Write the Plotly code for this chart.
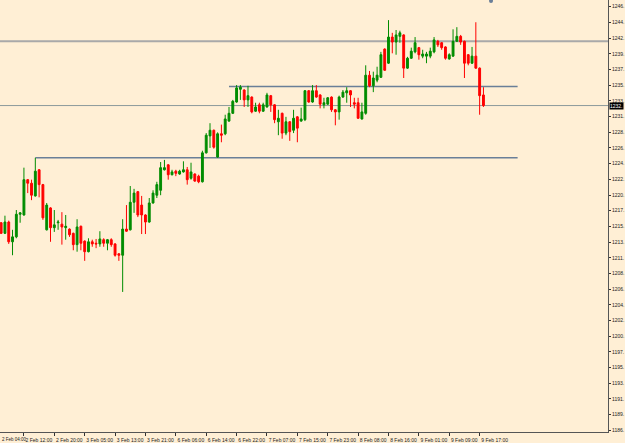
import plotly.graph_objects as go

# ---- data (hourly XAU candles) ----
bar_index = list(range(128))
open_ = [1216.0, 1214.5, 1216.1, 1213.3, 1214.0, 1217.2, 1217.1, 1222.1, 1221.6, 1219.8,
         1223.5, 1221.4, 1215.0, 1218.1, 1215.3, 1216.0, 1215.8, 1215.3, 1215.1, 1214.5,
         1212.9, 1215.5, 1213.4, 1211.9, 1213.3, 1213.1, 1213.0, 1213.6, 1213.1, 1213.6,
         1213.0, 1211.6, 1211.4, 1215.1, 1215.0, 1218.9, 1220.4, 1218.5, 1217.1, 1216.1,
         1218.8, 1219.9, 1220.6, 1223.5, 1224.2, 1222.8, 1223.3, 1222.9, 1223.2, 1223.5,
         1222.3, 1222.9, 1222.6, 1221.8, 1225.9, 1228.3, 1229.1, 1225.3, 1228.6, 1228.6,
         1230.4, 1231.5, 1233.1, 1234.9, 1234.8, 1233.4, 1233.8, 1231.8, 1232.7, 1231.8,
         1232.4, 1234.0, 1232.7, 1230.3, 1231.5, 1228.7, 1230.3, 1229.1, 1231.0, 1230.4,
         1230.6, 1234.7, 1233.1, 1234.7, 1234.1, 1232.7, 1232.8, 1233.8, 1232.0, 1231.7,
         1233.8, 1234.4, 1234.7, 1233.0, 1233.0, 1230.7, 1231.5, 1236.9, 1235.4, 1236.2,
         1236.6, 1240.6, 1238.6, 1242.3, 1241.6, 1242.4, 1242.6, 1237.9, 1239.3, 1240.2,
         1240.8, 1239.6, 1239.6, 1239.6, 1240.2, 1241.7, 1241.5, 1240.9, 1239.2, 1239.6,
         1241.7, 1242.4, 1241.7, 1239.8, 1238.6, 1239.6, 1237.9, 1234.1]
high = [1216.1, 1217.0, 1216.3, 1215.0, 1217.8, 1217.5, 1223.8, 1222.2, 1222.1, 1225.2,
        1223.6, 1221.5, 1218.8, 1218.2, 1217.8, 1216.4, 1217.5, 1217.1, 1215.2, 1214.6,
        1216.5, 1215.6, 1213.5, 1213.8, 1213.6, 1213.7, 1214.8, 1213.8, 1213.7, 1213.8,
        1213.1, 1211.7, 1216.5, 1218.5, 1221.2, 1220.8, 1220.5, 1219.8, 1217.2, 1219.5,
        1220.6, 1221.8, 1224.6, 1224.9, 1224.3, 1223.5, 1223.5, 1223.5, 1224.7, 1223.9,
        1224.5, 1223.0, 1222.8, 1226.2, 1228.7, 1230.1, 1229.2, 1228.8, 1229.9, 1231.3,
        1232.4, 1233.4, 1235.5, 1235.5, 1234.9, 1235.4, 1233.9, 1233.0, 1233.0, 1233.0,
        1234.4, 1234.1, 1232.8, 1232.0, 1231.6, 1231.0, 1230.4, 1232.0, 1231.1, 1232.3,
        1234.8, 1234.8, 1235.5, 1235.5, 1234.2, 1233.7, 1233.8, 1233.9, 1232.1, 1234.0,
        1234.8, 1235.2, 1234.8, 1233.7, 1233.7, 1233.0, 1238.3, 1237.5, 1237.4, 1238.1,
        1240.2, 1240.7, 1244.7, 1242.9, 1243.3, 1243.2, 1242.7, 1239.5, 1240.8, 1242.3,
        1240.9, 1240.5, 1240.2, 1240.8, 1242.3, 1241.9, 1241.6, 1241.0, 1240.0, 1243.4,
        1243.7, 1242.6, 1241.8, 1239.9, 1240.9, 1244.4, 1238.0, 1235.2]
low = [1214.4, 1214.4, 1213.0, 1211.4, 1213.8, 1216.0, 1217.0, 1220.2, 1219.2, 1219.7,
       1219.6, 1216.4, 1214.9, 1213.3, 1214.7, 1215.0, 1212.9, 1213.6, 1214.0, 1212.1,
       1211.9, 1212.1, 1210.6, 1211.8, 1212.6, 1212.4, 1212.6, 1212.6, 1212.1, 1212.6,
       1211.2, 1210.6, 1206.2, 1214.7, 1214.9, 1217.4, 1216.8, 1214.4, 1214.4, 1216.0,
       1218.7, 1219.5, 1219.9, 1223.4, 1222.1, 1222.7, 1222.6, 1222.8, 1223.1, 1221.4,
       1222.1, 1221.8, 1221.6, 1221.7, 1225.8, 1226.6, 1226.5, 1225.2, 1227.4, 1228.4,
       1230.3, 1231.4, 1233.0, 1233.4, 1232.4, 1232.4, 1231.5, 1231.7, 1231.5, 1231.7,
       1232.3, 1231.7, 1230.1, 1228.4, 1227.9, 1228.4, 1227.6, 1228.7, 1227.4, 1230.3,
       1230.4, 1233.0, 1233.0, 1233.7, 1232.2, 1232.2, 1232.7, 1231.7, 1229.8, 1230.6,
       1233.7, 1233.0, 1232.4, 1232.2, 1230.7, 1230.6, 1231.3, 1235.2, 1234.5, 1235.9,
       1236.5, 1237.5, 1238.5, 1240.0, 1239.8, 1241.5, 1236.5, 1237.8, 1239.2, 1240.0,
       1239.1, 1239.3, 1238.6, 1239.3, 1240.0, 1240.9, 1240.5, 1239.1, 1239.1, 1239.5,
       1241.6, 1241.2, 1236.5, 1238.3, 1238.5, 1237.8, 1231.3, 1232.4]
close = [1214.5, 1216.1, 1213.3, 1214.0, 1217.2, 1217.4, 1222.1, 1221.6, 1219.9, 1223.3,
         1221.4, 1216.7, 1218.5, 1215.3, 1215.7, 1216.1, 1215.4, 1215.5, 1214.3, 1212.9,
         1215.4, 1213.1, 1211.9, 1213.3, 1213.0, 1213.0, 1213.7, 1213.1, 1213.6, 1212.9,
         1211.4, 1211.4, 1215.1, 1214.8, 1218.9, 1220.2, 1217.1, 1217.1, 1216.1, 1218.8,
         1220.2, 1221.4, 1223.8, 1223.8, 1222.8, 1223.2, 1223.0, 1223.3, 1223.5, 1222.1,
         1223.2, 1221.9, 1221.8, 1225.9, 1228.4, 1229.1, 1226.7, 1228.6, 1228.4, 1230.7,
         1231.5, 1233.2, 1235.1, 1235.2, 1233.4, 1234.0, 1231.7, 1232.4, 1231.8, 1232.7,
         1234.1, 1232.7, 1230.6, 1230.8, 1228.7, 1230.3, 1228.9, 1230.8, 1229.4, 1230.7,
         1234.7, 1233.1, 1234.7, 1233.8, 1232.8, 1233.0, 1233.7, 1232.0, 1231.7, 1233.8,
         1234.5, 1234.7, 1234.1, 1232.8, 1230.8, 1231.7, 1236.9, 1235.4, 1236.5, 1236.9,
         1239.8, 1237.6, 1242.3, 1241.6, 1242.6, 1242.9, 1237.9, 1239.3, 1240.3, 1241.5,
         1239.8, 1239.9, 1239.9, 1240.3, 1241.9, 1241.2, 1240.8, 1239.3, 1239.8, 1241.7,
         1242.4, 1241.6, 1238.6, 1238.6, 1239.6, 1237.9, 1234.0, 1232.6]

# time axis labels (one every 8 hourly bars)
x_tick_bars = [-2, 6, 14, 22, 30, 38, 46, 54, 62, 70, 78, 86, 94, 102, 110, 118, 126]
x_tick_labels = ["2 Feb 04:00", "2 Feb 12:00", "2 Feb 20:00", "3 Feb 05:00", "3 Feb 13:00",
                 "3 Feb 21:00", "6 Feb 06:00", "6 Feb 14:00", "6 Feb 22:00", "7 Feb 07:00",
                 "7 Feb 15:00", "7 Feb 23:00", "8 Feb 08:00", "8 Feb 16:00", "9 Feb 01:00",
                 "9 Feb 09:00", "9 Feb 17:00"]

# price axis labels
y_tick_values = [1246.60, 1244.38, 1242.16, 1239.93, 1237.71, 1235.49, 1233.27, 1231.04,
                 1228.82, 1226.60, 1224.38, 1222.16, 1219.93, 1217.71, 1215.49, 1213.27,
                 1211.04, 1208.82, 1206.60, 1204.38, 1202.16, 1199.93, 1197.71, 1195.49,
                 1193.27, 1191.04, 1188.82, 1186.60]
y_tick_labels = ["1246.", "1244.", "1242.", "1239.", "1237.", "1235.", "1233.", "1231.",
                 "1228.", "1226.", "1224.", "1222.", "1220.", "1217.", "1215.", "1213.",
                 "1211.", "1208.", "1206.", "1204.", "1202.", "1200.", "1197.", "1195.",
                 "1193.", "1191.", "1189.", "1186."]

# horizontal levels
full_levels = [1241.7]            # thick grey level, full width
bid_price = 1232.6                # current bid line
bid_label = "1232."
trend_levels = [1235.3, 1225.2]   # blue-grey levels
trend_start = [60, 9]
trend_end = [136, 136]
marker_bar = [129]
marker_price = [1247.4]

BG = "#FFEFD5"
GREEN = "#008c00"
RED = "#ff0000"
FONT = "Liberation Sans"

fig = go.Figure()
fig.add_trace(go.Candlestick(
    x=bar_index, open=open_, high=high, low=low, close=close,
    increasing=dict(line=dict(color=GREEN, width=1), fillcolor=GREEN),
    decreasing=dict(line=dict(color=RED, width=1), fillcolor=RED),
    whiskerwidth=0, showlegend=False, hoverinfo="skip",
))
fig.add_trace(go.Scatter(x=marker_bar, y=marker_price, mode="markers",
                         marker=dict(size=4, color="#6b7f99"), showlegend=False,
                         hoverinfo="skip", cliponaxis=False))

shapes = []
for lv in full_levels:
    shapes.append(dict(type="line", xref="paper", x0=0, x1=1, yref="y", y0=lv, y1=lv,
                       line=dict(color="#a9a9a9", width=2), layer="below"))
shapes.append(dict(type="line", xref="paper", x0=0, x1=1, yref="y", y0=bid_price, y1=bid_price,
                   line=dict(color="#8c9a9c", width=1), layer="below"))
for lv, s, e in zip(trend_levels, trend_start, trend_end):
    shapes.append(dict(type="line", xref="x", x0=s, x1=e, yref="y", y0=lv, y1=lv,
                       line=dict(color="#6a7f98", width=1.5), layer="below"))

annotations = [
    # first time label, its tick lies just left of the visible area
    dict(x=0, xref="paper", y=0, yref="paper", yanchor="top", xanchor="left",
         text=x_tick_labels[0], showarrow=False, xshift=0, yshift=-3,
         font=dict(family=FONT, size=4.5, color="#222")),
    dict(x=1, xref="paper", y=bid_price, yref="y", xanchor="left", yanchor="middle",
         text=bid_label, showarrow=False, bgcolor="#000000", borderpad=0, xshift=1,
         font=dict(family=FONT, size=5, color="#ffffff")),
]

fig.update_layout(
    width=625, height=443,
    margin=dict(l=0, r=15, t=0, b=11),
    paper_bgcolor=BG, plot_bgcolor=BG,
    shapes=shapes, annotations=annotations,
    font=dict(family=FONT, size=5, color="#222"),
    xaxis=dict(range=[-0.3, 159.8], rangeslider=dict(visible=False), showgrid=False,
               zeroline=False, tickmode="array", tickvals=x_tick_bars[1:],
               ticktext=x_tick_labels[1:], ticks="outside", ticklen=3, tickcolor="#333",
               showline=True, linecolor="#555", linewidth=1, ticklabelshift=15,
               ticklabelstandoff=0, tickfont=dict(family=FONT, size=5, color="#222")),
    yaxis=dict(side="right", range=[1186.36, 1247.55], showgrid=False, zeroline=False,
               tickmode="array", tickvals=y_tick_values, ticktext=y_tick_labels,
               ticks="outside", ticklen=2, tickcolor="#333", showline=True,
               linecolor="#555", linewidth=1, ticklabelstandoff=0,
               tickfont=dict(family=FONT, size=5, color="#222")),
)

fig.write_html("out.html")
